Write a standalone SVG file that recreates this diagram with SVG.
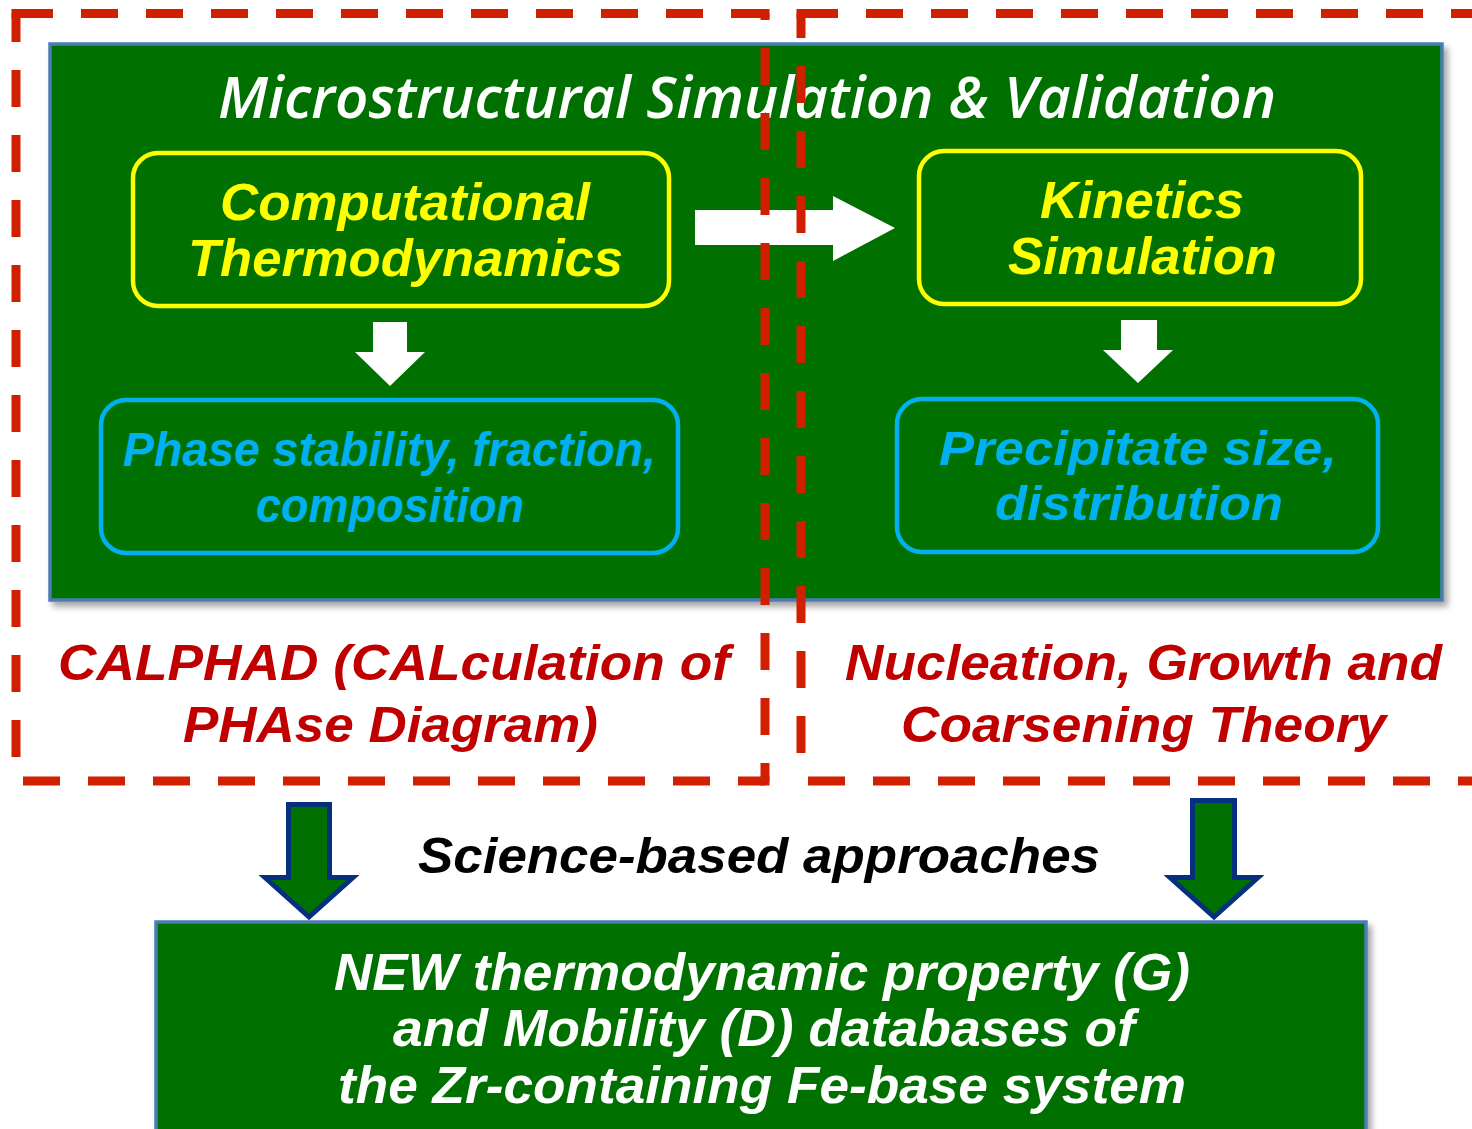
<svg xmlns="http://www.w3.org/2000/svg" width="1472" height="1129" viewBox="0 0 1472 1129">
<style>
.gbox{fill:#007000;stroke:#4a7eb5;stroke-width:3.5}
.ybox{fill:none;stroke:#ffff00;stroke-width:4.5}
.bbox{fill:none;stroke:#00b0f0;stroke-width:4.5}
.warr{fill:#ffffff}
.garr{fill:#007000;stroke:#06307e;stroke-width:5;stroke-linejoin:miter}
.dash{stroke:#d02000;stroke-width:9;stroke-dasharray:37 28;fill:none}
.corner{fill:#d02000}
.cal{font-family:"Open Sans","Noto Sans","DejaVu Sans",sans-serif;font-style:italic}
.ari{font-family:"Liberation Sans",Arial,sans-serif;font-style:italic;font-weight:bold}
.nar{font-family:"Liberation Sans Narrow","Liberation Sans",Arial,sans-serif;font-style:italic;font-weight:bold}
.title{fill:#ffffff;font-size:58px;font-weight:600}
.yel{fill:#ffff00;font-size:52px}
.cyan{fill:#00b0f0;font-size:48px}
.red{fill:#c00000;font-size:50px}
.blk{fill:#000000;font-size:50px}
.wht{fill:#ffffff;font-size:52px}
</style>
<defs>
<filter id="sh" x="-5%" y="-5%" width="115%" height="115%">
<feDropShadow dx="4" dy="5" stdDeviation="3" flood-color="#000" flood-opacity="0.35"/>
</filter>
</defs>

<g id="main-box">
<rect class="gbox" x="50" y="44" width="1392" height="556" filter="url(#sh)"/>
<text class="cal title" x="218" y="118" textLength="1058" lengthAdjust="spacingAndGlyphs">Microstructural Simulation &amp; Validation</text>
</g>

<g id="comp-thermo">
<rect class="ybox" x="133" y="153" width="536" height="153" rx="25"/>
<text class="ari yel" x="220" y="220" textLength="370" lengthAdjust="spacingAndGlyphs">Computational</text>
<text class="ari yel" x="188" y="276" textLength="435" lengthAdjust="spacingAndGlyphs">Thermodynamics</text>
</g>

<g id="kinetics">
<rect class="ybox" x="919" y="151" width="442" height="153" rx="25"/>
<text class="ari yel" x="1040" y="218" textLength="204" lengthAdjust="spacingAndGlyphs">Kinetics</text>
<text class="ari yel" x="1008" y="274" textLength="269" lengthAdjust="spacingAndGlyphs">Simulation</text>
</g>

<g id="phase">
<rect class="bbox" x="101" y="400" width="577" height="153" rx="25"/>
<text class="ari cyan" x="123" y="466" textLength="533" lengthAdjust="spacingAndGlyphs">Phase stability, fraction,</text>
<text class="ari cyan" x="256" y="522" textLength="268" lengthAdjust="spacingAndGlyphs">composition</text>
</g>

<g id="precip">
<rect class="bbox" x="897" y="399" width="481" height="153" rx="25"/>
<text class="ari cyan" font-size="52" x="939" y="465" textLength="398" lengthAdjust="spacingAndGlyphs">Precipitate size,</text>
<text class="ari cyan" font-size="52" x="995" y="520" textLength="288" lengthAdjust="spacingAndGlyphs">distribution</text>
</g>

<g id="connectors">
<polygon class="warr" points="695,210 833,210 833,196 895,228 833,261 833,245 695,245"/>
<polygon class="warr" points="373,322 407,322 407,352 425,352 390,386 355,352 373,352"/>
<polygon class="warr" points="1121,320 1157,320 1157,350 1173,350 1138,383 1103,350 1121,350"/>
<polygon class="garr" points="288.5,804.5 329.5,804.5 329.5,877.5 353,877.5 309,917 265,877.5 288.5,877.5"/>
<polygon class="garr" points="1192.5,800.5 1234.5,800.5 1234.5,877.5 1258,877.5 1214,917 1170,877.5 1192.5,877.5"/>
</g>

<g id="calphad-frame">
<line class="dash" x1="16" y1="13.5" x2="765" y2="13.5"/>
<line class="dash" x1="16" y1="13.5" x2="16" y2="781" stroke-dashoffset="8.5"/>
<line class="dash" x1="765" y1="13.5" x2="765" y2="781" stroke-dashoffset="30.5"/>
<line class="dash" x1="16" y1="781" x2="765" y2="781" stroke-dashoffset="58"/>
<rect class="corner" x="11.5" y="9" width="9" height="9"/>
<rect class="corner" x="760.5" y="9" width="9" height="9"/>
<rect class="corner" x="760.5" y="776.5" width="9" height="9"/>
<text class="ari red" x="58" y="680" textLength="672" lengthAdjust="spacingAndGlyphs">CALPHAD (CALculation of</text>
<text class="ari red" x="183" y="742" textLength="415" lengthAdjust="spacingAndGlyphs">PHAse Diagram)</text>
</g>

<g id="nucleation-frame">
<line class="dash" x1="801" y1="13.5" x2="1480" y2="13.5"/>
<line class="dash" x1="801" y1="13.5" x2="801" y2="781" stroke-dashoffset="12.5"/>
<line class="dash" x1="801" y1="781" x2="1480" y2="781" stroke-dashoffset="58"/>
<rect class="corner" x="796.5" y="9" width="9" height="9"/>
<text class="ari red" x="845" y="680" textLength="597" lengthAdjust="spacingAndGlyphs">Nucleation, Growth and</text>
<text class="ari red" x="901" y="742" textLength="485" lengthAdjust="spacingAndGlyphs">Coarsening Theory</text>
</g>

<g id="science-label">
<text class="ari blk" x="418" y="873" textLength="682" lengthAdjust="spacingAndGlyphs">Science-based approaches</text>
</g>

<g id="databases">
<rect class="gbox" x="156" y="922" width="1210" height="260" filter="url(#sh)"/>
<text class="nar wht" x="334" y="990" textLength="856" lengthAdjust="spacingAndGlyphs">NEW thermodynamic property (G)</text>
<text class="nar wht" x="393" y="1046" textLength="742" lengthAdjust="spacingAndGlyphs">and Mobility (D) databases of</text>
<text class="nar wht" x="338" y="1103" textLength="848" lengthAdjust="spacingAndGlyphs">the Zr-containing Fe-base system</text>
</g>
</svg>
